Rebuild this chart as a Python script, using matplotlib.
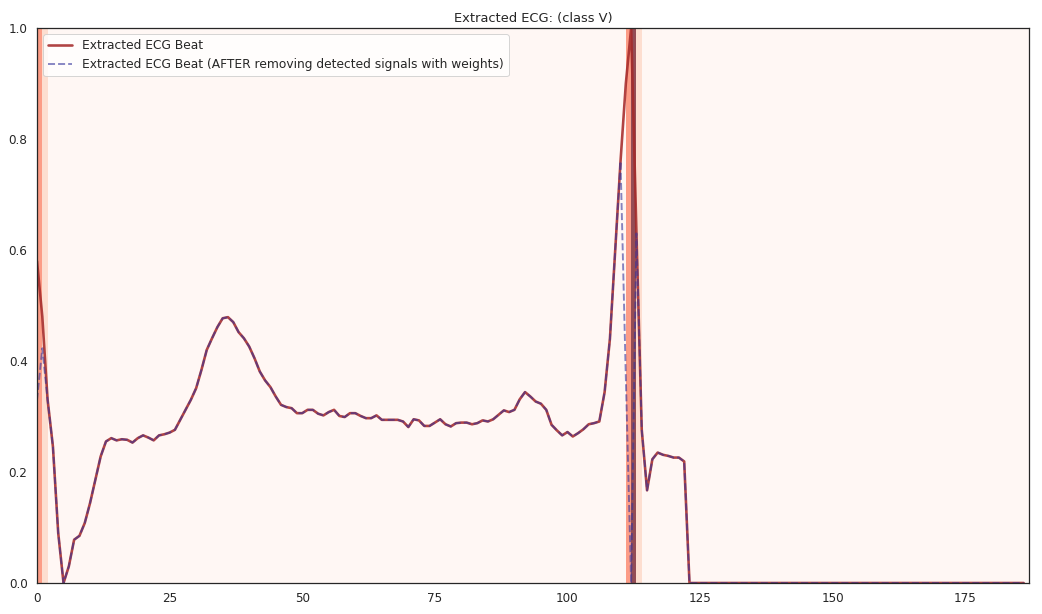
import numpy as np
import matplotlib
matplotlib.use("Agg")
import matplotlib.pyplot as plt
import seaborn as sns

sns.set_style("white")
sns.set_context("notebook")

# extracted beat (187 samples)
ecg = [0.58, 0.48, 0.33, 0.246, 0.09, 0.0, 0.03, 0.078, 0.085, 0.108,
       0.144, 0.186, 0.228, 0.255, 0.261, 0.257, 0.259, 0.258, 0.253, 0.261,
       0.266, 0.262, 0.257, 0.266, 0.268, 0.271, 0.276, 0.294, 0.312, 0.330,
       0.351, 0.384, 0.420, 0.441, 0.461, 0.477, 0.479, 0.470, 0.452, 0.441,
       0.426, 0.405, 0.381, 0.365, 0.353, 0.336, 0.321, 0.317, 0.315, 0.306,
       0.306, 0.312, 0.312, 0.305, 0.302, 0.308, 0.312, 0.301, 0.299, 0.306,
       0.306, 0.301, 0.297, 0.297, 0.302, 0.294, 0.294, 0.294, 0.294, 0.291,
       0.281, 0.295, 0.293, 0.283, 0.283, 0.289, 0.295, 0.286, 0.282, 0.288,
       0.289, 0.289, 0.286, 0.288, 0.293, 0.291, 0.295, 0.303, 0.311, 0.308,
       0.312, 0.331, 0.344, 0.336, 0.327, 0.323, 0.312, 0.285, 0.275, 0.266,
       0.272, 0.264, 0.270, 0.277, 0.286, 0.288, 0.291, 0.344, 0.44, 0.60,
       0.76, 0.90, 1.0, 0.63, 0.276, 0.167, 0.223, 0.235, 0.231, 0.229,
       0.226, 0.226, 0.219] + [0.0] * 64

# same beat after removing the detected samples
ecg_removed = list(ecg)
ecg_removed[0] = 0.33
ecg_removed[1] = 0.423
ecg_removed[111] = 0.37
ecg_removed[112] = 0.0

# weights of the detected samples (shading intensity)
weights = [0.0] * 187
weights[0] = 0.47
weights[1] = 0.18
weights[111] = 0.47
weights[112] = 1.0
weights[113] = 0.18

x = np.arange(len(ecg))

fig = plt.figure(figsize=(1042 / 72, 614 / 72), dpi=72)
ax = fig.add_axes([37 / 1042, 31 / 614, 992 / 1042, 555 / 614])

cmap = plt.cm.Reds
for i, w in enumerate(weights):
    ax.axvspan(i, i + 1, color=cmap(w), alpha=0.7, lw=0)

ax.plot(x, ecg, color="#a52a2a", alpha=0.88, linewidth=2.6, label="Extracted ECG Beat")
ax.plot(x, ecg_removed, color="#34349c", alpha=0.6, linewidth=1.9, linestyle="--",
        label="Extracted ECG Beat (AFTER removing detected signals with weights)")

ax.set_xlim(0, 187)
ax.set_ylim(0, 1)
ax.set_title("Extracted ECG: (class V)", fontsize=13)
ax.tick_params(labelsize=12)
ax.legend(loc=2, fontsize=12.2)

fig.savefig("out.png", dpi=72)
